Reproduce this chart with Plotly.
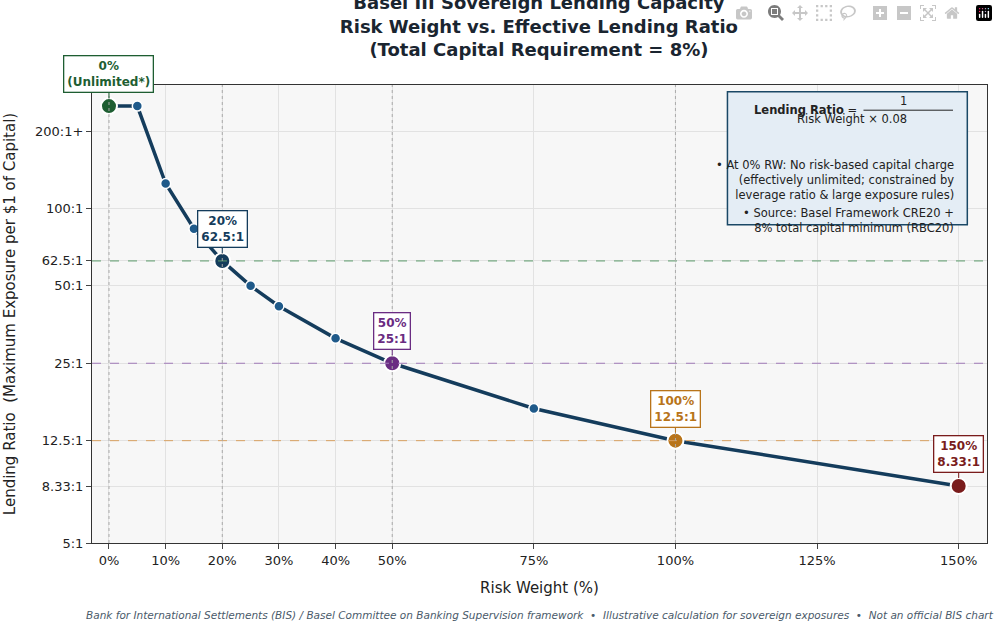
import plotly.graph_objects as go
import numpy as np

rw = [0, 5, 10, 15, 20, 25, 30, 40, 50, 75, 100, 150]
ratio = [250, 250, 125, 83.33, 62.5, 50, 41.67, 31.25, 25, 16.67, 12.5, 8.33]
key_rw = [0, 20, 50, 100, 150]
key_ratio = [250, 62.5, 25, 12.5, 8.33]
key_colors = ["#1e5e32", "#143c5c", "#6a2c82", "#b8741a", "#7a1c1c"]
key_labels = ["0%<br>(Unlimited*)", "20%<br>62.5:1", "50%<br>25:1", "100%<br>12.5:1", "150%<br>8.33:1"]
ref_lines = [62.5, 25, 12.5]
ref_colors = ["#5a9a6a", "#a07ab8", "#d8a060"]
y_ticks = [5, 8.33, 12.5, 25, 50, 62.5, 100, 200]
y_ticktext = ["5:1", "8.33:1", "12.5:1", "25:1", "50:1", "62.5:1", "100:1", "200:1+"]
x_ticks = [0, 10, 20, 30, 40, 50, 75, 100, 125, 150]

fig = go.Figure()
for v, c in zip(ref_lines, ref_colors):
    fig.add_hline(y=v, line=dict(color=c, width=1, dash="dash"))
for x in [0, 20, 50, 100]:
    fig.add_vline(x=x, line=dict(color="#aaaaaa", width=1, dash="dot"))

fig.add_trace(go.Scatter(x=rw, y=ratio, mode="lines+markers",
    line=dict(color="#143c5c", width=3.5),
    marker=dict(size=10, color="#1f5a8a", line=dict(color="white", width=1.5)),
    showlegend=False))
fig.add_trace(go.Scatter(x=key_rw, y=key_ratio, mode="markers",
    marker=dict(size=16, color=key_colors, line=dict(color="white", width=2)),
    showlegend=False))

offsets = [(0, -32), (0, -32), (0, -32), (0, -32), (0, -32)]
for x, y, c, t, (ax, ay) in zip(key_rw, key_ratio, key_colors, key_labels, offsets):
    fig.add_annotation(x=x, y=np.log10(y), text="<b>%s</b>" % t, showarrow=True,
        arrowhead=0, arrowcolor=c, arrowwidth=1, ax=ax, ay=ay, standoff=8,
        font=dict(color=c, size=12, family="DejaVu Sans"),
        bgcolor="white", bordercolor=c, borderwidth=1.3, borderpad=3)

# info box
fig.add_shape(type="rect", xref="paper", yref="paper", x0=0.71, x1=0.978, y0=0.695, y1=0.985,
    fillcolor="#e4edf5", line=dict(color="#1a4866", width=1.5))
fs = dict(family="DejaVu Sans", size=11.5, color="#222")
fig.add_annotation(xref="paper", yref="paper", x=0.862, y=0.945, text="<b>Lending Ratio</b> = ",
    showarrow=False, xanchor="right", yanchor="middle", font=fs)
fig.add_annotation(xref="paper", yref="paper", x=0.912, y=0.947, text="1", showarrow=False,
    yanchor="bottom", font=fs, borderpad=0)
fig.add_shape(type="line", xref="paper", yref="paper", x0=0.862, x1=0.962, y0=0.945, y1=0.945,
    line=dict(color="#222", width=1))
fig.add_annotation(xref="paper", yref="paper", x=0.912, y=0.943, text="Risk Weight × 0.08",
    showarrow=False, yanchor="top", font=fs, borderpad=0)
fig.add_annotation(xref="paper", yref="paper", x=0.965, y=0.845, xanchor="right", align="right",
    text="• At 0% RW: No risk-based capital charge<br>(effectively unlimited; constrained by<br>leverage ratio &amp; large exposure rules)",
    showarrow=False, font=fs)
fig.add_annotation(xref="paper", yref="paper", x=0.965, y=0.74, xanchor="right", align="right",
    text="• Source: Basel Framework CRE20 +<br>8% total capital minimum (RBC20)",
    showarrow=False, font=fs)

fig.add_annotation(xref="paper", yref="paper", x=0.5, y=-0.175, showarrow=False,
    text="<i>Bank for International Settlements (BIS) / Basel Committee on Banking Supervision framework  •  Illustrative calculation for sovereign exposures  •  Not an official BIS chart</i>",
    font=dict(size=10.5, color="#4a5a6a", family="DejaVu Sans"))

fig.update_layout(
    width=998, height=624, margin=dict(l=88, r=10, t=85, b=81),
    paper_bgcolor="white", plot_bgcolor="#f7f7f7",
    font=dict(family="DejaVu Sans", color="#222"),
    title=dict(text="<b>Basel III Sovereign Lending Capacity<br>Risk Weight vs. Effective Lending Ratio<br>(Total Capital Requirement = 8%)</b>",
        x=0.54, xanchor="center", y=0.985, yanchor="top", font=dict(size=18, color="#1a2530")),
    xaxis=dict(range=[-3, 155], tickvals=x_ticks, ticktext=[f"{v}%" for v in x_ticks],
        title=dict(text="Risk Weight (%)", font=dict(size=15)), tickfont=dict(size=13),
        showgrid=True, gridcolor="#e2e2e2", showline=True, linecolor="#333", mirror=True,
        ticks="outside", zeroline=False),
    yaxis=dict(type="log", range=[0.699, 2.48], tickvals=y_ticks, ticktext=y_ticktext,
        title=dict(text="Lending Ratio  (Maximum Exposure per $1 of Capital)", font=dict(size=15)),
        tickfont=dict(size=13), showgrid=True, gridcolor="#e2e2e2", showline=True,
        linecolor="#333", mirror=True, ticks="outside"),
)
fig.write_html("out.html", post_script="document.body.style.margin='0';document.body.style.overflow='hidden';")
